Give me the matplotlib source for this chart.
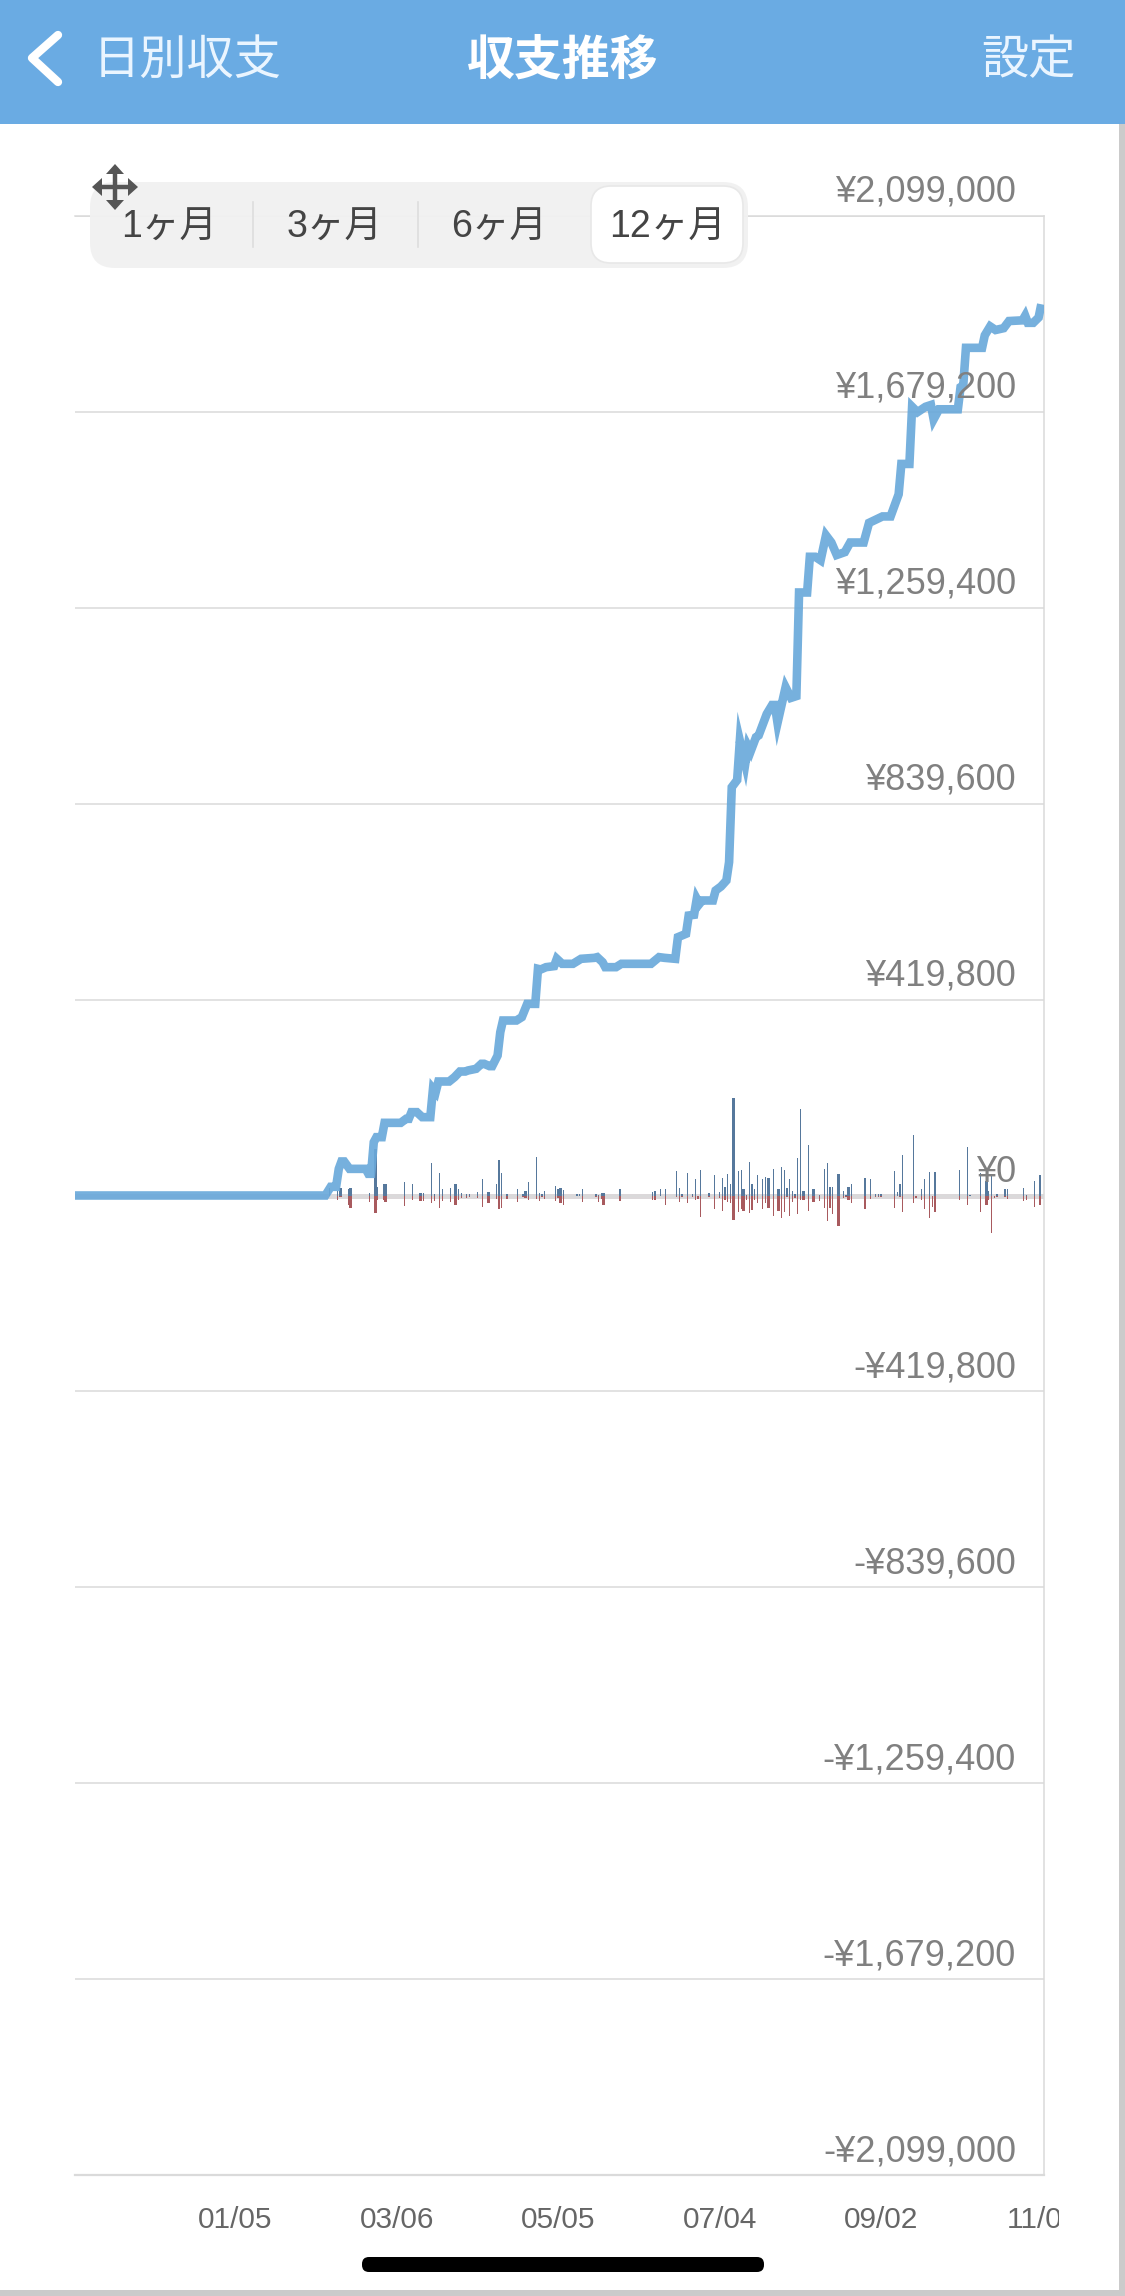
import numpy as np
import matplotlib
matplotlib.use("Agg")
import matplotlib.pyplot as plt
from matplotlib.patches import FancyBboxPatch, Rectangle, Polygon

plt.rcParams['font.family'] = ['Liberation Sans', 'Noto Sans CJK JP', 'DejaVu Sans']

# ---------- data ----------
y_ticks = [2099000, 1679200, 1259400, 839600, 419800, 0,
           -419800, -839600, -1259400, -1679200, -2099000]
y_labels = ['¥2,099,000', '¥1,679,200', '¥1,259,400', '¥839,600', '¥419,800', '¥0',
            '-¥419,800', '-¥839,600', '-¥1,259,400', '-¥1,679,200', '-¥2,099,000']
x_tick_days = [59, 119, 179, 239, 299, 359]
x_tick_labels = ['01/05', '03/06', '05/05', '07/04', '09/02', '11/01']
periods = ['1ヶ月', '3ヶ月', '6ヶ月', '12ヶ月']

total_day = [0, 93, 95, 97, 98, 99, 100, 102, 108, 109, 110, 111, 112, 114, 115, 121, 123, 124, 125, 127,
             129, 132, 133, 134, 135, 139, 141, 143, 145, 146, 149, 151, 152, 154, 155, 157, 158, 159, 164,
             166, 168, 171, 172, 173, 175, 178, 179, 181, 185, 188, 193, 194, 196, 197, 201, 203, 214, 217,
             219, 223, 224, 227, 228, 230, 231, 232, 233, 237, 238, 240, 242, 243, 244, 246, 247, 249, 250,
             251, 253, 254, 257, 259, 260, 261, 264, 266, 268, 269, 272, 273, 275, 277, 279, 281, 283, 286,
             288, 293, 295, 300, 303, 306, 307, 310, 311, 313, 316, 318, 319, 321, 328, 329, 330, 331, 337,
             338, 340, 342, 345, 347, 352, 353, 354, 356, 358, 359]
total_value = [0, 0, 18600, 18600, 57100, 72900, 72900, 57100, 57100, 46500, 46500, 114300, 125000, 125000,
               155700, 155700, 164300, 164300, 178600, 178600, 167900, 167900, 228600, 221500, 244300, 244300,
               253600, 265700, 265700, 267900, 271500, 282200, 282200, 277200, 277200, 300000, 350000, 375000,
               375000, 382200, 410700, 410700, 485700, 484300, 489300, 491500, 507200, 496500, 496500, 507200,
               509300, 510800, 500000, 489300, 489300, 496500, 496500, 510800, 509300, 507200, 553600, 560800,
               600000, 601500, 635800, 625000, 632200, 632200, 653600, 662200, 675000, 714300, 875000, 890300,
               974500, 924800, 963000, 951600, 982200, 986000, 1031900, 1051100, 1051100, 1012800, 1089300,
               1066400, 1070200, 1292200, 1292200, 1368700, 1368700, 1361100, 1414600, 1399300, 1372600,
               1378700, 1399300, 1399300, 1441400, 1455200, 1455200, 1502700, 1567700, 1567700, 1690200,
               1678700, 1690200, 1694000, 1663400, 1684800, 1684800, 1732300, 1736100, 1816500, 1816500,
               1843300, 1862400, 1854700, 1858600, 1873900, 1875400, 1885400, 1870100, 1870100, 1881500, 1909900]

bar_day = [94, 97, 98, 101, 102, 109, 111, 112, 114, 115, 122, 125, 128, 129, 132, 133, 135, 136, 139, 141,
           142, 143, 145, 146, 149, 151, 153, 156, 157, 158, 160, 164, 166, 167, 168, 171, 172, 173, 174, 178,
           179, 180, 181, 186, 187, 188, 193, 194, 195, 196, 202, 214, 215, 217, 219, 223, 224, 225, 227, 229,
           230, 231, 232, 235, 237, 239, 240, 241, 242, 243, 244, 246, 247, 248, 249, 250, 251, 252, 253, 255,
           256, 257, 259, 261, 262, 263, 264, 265, 266, 267, 268, 269, 270, 272, 274, 276, 278, 279, 280, 281,
           283, 285, 286, 287, 288, 293, 295, 297, 298, 299, 304, 305, 306, 307, 311, 312, 314, 315, 317, 318,
           319, 328, 331, 332, 336, 338, 339, 340, 341, 342, 345, 346, 352, 353, 356, 358]
bar_gain = [16400, 9300, 16400, 12900, 16400, 4300, 100000, 18600, 25700, 25700, 29300, 23600, 4300, 5700, 70000,
            3600, 48600, 12900, 16400, 25700, 12900, 5700, 2900, 3600, 7900, 34300, 7900, 25700, 77100, 48600,
            3600, 14300, 3600, 10700, 29300, 82800, 5700, 3600, 10700, 20000, 12900, 16400, 11400, 3600, 3600,
            14300, 3600, 2100, 5700, 5700, 14300, 7900, 10700, 12900, 12900, 52100, 16400, 3600, 48600, 3600,
            36400, 0, 55700, 5700, 44300, 7900, 37800, 18600, 46400, 25700, 209200, 52100, 53600, 12900, 2100,
            72100, 23600, 12900, 45000, 35700, 40000, 37800, 57100, 14300, 61400, 53600, 16400, 35700, 10700,
            3600, 79300, 185600, 10700, 109200, 12900, 2100, 57800, 70000, 18600, 18600, 46400, 10700, 2100,
            18600, 25700, 37800, 36400, 3600, 3600, 3600, 52100, 7900, 25700, 87800, 130700, 0, 12900, 36400,
            50000, 0, 50700, 54300, 104200, 2100, 48600, 30700, 10700, 45000, 0, 3600, 12900, 12900, 16400, 700,
            32100, 45000]
bar_loss = [0, 10000, 3600, 20700, 26400, 14300, 37100, 10000, 8600, 14300, 22800, 10000, 12100, 12100, 15700,
            12100, 26400, 12100, 14300, 20700, 8600, 5000, 5000, 2900, 5000, 25000, 15700, 7100, 30000, 26400,
            7100, 14300, 2900, 5000, 10000, 7100, 12100, 2900, 7100, 12100, 5000, 17100, 20700, 1400, 1400,
            14300, 3600, 14300, 7100, 20700, 12100, 8600, 8600, 1400, 20700, 3600, 14300, 3600, 15700, 2900,
            8600, 7100, 46400, 3600, 30000, 6400, 33600, 8600, 14300, 15700, 52800, 35700, 30000, 33600, 8600,
            37100, 31400, 8600, 15700, 30000, 15700, 27800, 44300, 33600, 47800, 35700, 3600, 44300, 14300,
            6400, 39300, 8600, 10000, 33600, 14300, 12100, 26400, 55000, 26400, 38600, 64300, 5000, 2900,
            8600, 15700, 28600, 7100, 3600, 3600, 2900, 27800, 1400, 2900, 35700, 17100, 5700, 10000, 30000,
            47800, 25000, 35700, 10000, 20700, 1400, 35700, 20700, 8600, 80000, 5000, 2900, 3600, 7100, 12100,
            10000, 25000, 20700]

# ---------- styling only ----------
wide_bar_days = {98, 102, 111, 115, 128, 141, 153, 157, 160, 167, 179, 180, 196, 202, 215, 225, 241, 244, 248,
                 251, 257, 261, 264, 270, 274, 280, 283, 287, 293, 306, 319, 338, 345, 358}
W, H = 1125, 2296
GRID = '#DADADA'
LINE = '#6AA9DA'
UP = '#56789C'
DOWN = '#A85A5E'
TEXT = '#808080'

fig = plt.figure(figsize=(W / 100, H / 100), dpi=100, facecolor='white')

# ---------- chart ----------
L, R, T, B = 75, 1044, 216, 2175
ax = fig.add_axes([L / W, 1 - B / H, (R - L) / W, (B - T) / H])
ax.set_xlim(0, 360)
ax.set_ylim(-2099000, 2099000)
ax.patch.set_alpha(0)
ax.spines['left'].set_visible(False)
for s in ['top', 'right', 'bottom']:
    ax.spines[s].set_color(GRID)
    ax.spines[s].set_linewidth(1.1)
ax.spines['bottom'].set_linewidth(1.6)
ax.set_yticks(y_ticks)
ax.set_yticklabels([])
ax.tick_params(length=0)
ax.grid(axis='y', color=GRID, linewidth=1.1, zorder=1)
ax.axhline(0, color='#DCD8DA', linewidth=3.6, zorder=1.5)

days = np.array(bar_day, dtype=float) + 0.5
gain = np.array(bar_gain, dtype=float)
loss = np.array(bar_loss, dtype=float)
is_wide = np.array([d in wide_bar_days for d in bar_day])
widths = np.where(is_wide, 1.05, 0.5)
ax.bar(days, gain, width=widths, color=UP, linewidth=0, zorder=2)
ax.bar(days, -loss, width=widths, color=DOWN, linewidth=0, zorder=2)

ax.plot(total_day, total_value, color=LINE, linewidth=6.2, alpha=0.92,
        solid_joinstyle='miter', solid_capstyle='butt', zorder=3)

for v, lab in zip(y_ticks, y_labels):
    ax.annotate(lab, xy=(1, v), xycoords=('axes fraction', 'data'),
                xytext=(-28, 23.5), textcoords='offset pixels',
                ha='right', va='center', fontsize=26, color=TEXT, zorder=6, annotation_clip=False)

ax.set_xticks(np.array(x_tick_days) + 0.5)
ax.set_xticklabels(x_tick_labels, fontsize=21.5, color='#666666')
ax.tick_params(axis='x', pad=22)
clip = Rectangle((0, 0), 1059, H, transform=None)
for t in ax.get_xticklabels():
    t.set_clip_path(clip)
    t.set_clip_on(True)

# ---------- app chrome (pixel coordinates) ----------
ui = fig.add_axes([0, 0, 1, 1], zorder=5)
ui.set_xlim(0, W)
ui.set_ylim(H, 0)
ui.axis('off')
ui.patch.set_alpha(0)

ui.add_patch(Rectangle((1119, 0), 6, H, color='#CBCBCB', linewidth=0))
ui.add_patch(Rectangle((0, 2290), W, 6, color='#CBCBCB', linewidth=0))
ui.add_patch(Rectangle((0, 0), W, 124, color='#6AABE3', linewidth=0))
ui.plot([58, 32, 58], [35, 58, 82], color='white', linewidth=6, solid_capstyle='round', solid_joinstyle='round')
ui.text(187, 62, '日別収支', color='#EAF5FF', fontsize=34, ha='center', va='center')
ui.text(563, 62, '収支推移', color='white', fontsize=34.5, ha='center', va='center', fontweight='bold')
ui.text(1028, 62, '設定', color='#EAF5FF', fontsize=34, ha='center', va='center')

ui.add_patch(FancyBboxPatch((90 + 25, 182 + 25), 658 - 50, 86 - 50,
                            boxstyle='round,pad=25,rounding_size=25', facecolor='#F1F1F1',
                            edgecolor='none', alpha=0.95))
ui.add_patch(FancyBboxPatch((591 + 20, 186 + 20), 152 - 40, 77 - 40,
                            boxstyle='round,pad=20,rounding_size=20', facecolor='white',
                            edgecolor='#E8E8E8', linewidth=1.2))
for sx in (253, 418):
    ui.plot([sx, sx], [202, 247], color='#DDDDDD', linewidth=1.2)
for cx, lab in zip((169, 334, 499, 667), periods):
    ui.text(cx, 228, lab, color='#444444', fontsize=27, ha='center', va='center')

# move icon
ICON = '#555555'
cx0, cy0 = 115, 187
ui.plot([cx0 - 16, cx0 + 16], [cy0, cy0], color=ICON, linewidth=3.2, solid_capstyle='butt')
ui.plot([cx0, cx0], [cy0 - 16, cy0 + 16], color=ICON, linewidth=3.2, solid_capstyle='butt')
for dx, dy in ((1, 0), (-1, 0), (0, 1), (0, -1)):
    tip = (cx0 + 23 * dx, cy0 + 23 * dy)
    a = (cx0 + 13 * dx + 9 * dy, cy0 + 13 * dy + 9 * dx)
    b = (cx0 + 13 * dx - 9 * dy, cy0 + 13 * dy - 9 * dx)
    ui.add_patch(Polygon([tip, a, b], closed=True, color=ICON, linewidth=0))

# home indicator
ui.add_patch(FancyBboxPatch((362 + 7, 2257 + 7), 402 - 14, 15 - 14,
                            boxstyle='round,pad=7,rounding_size=7', facecolor='black', edgecolor='none'))

fig.savefig('out.png', dpi=100, facecolor='white')
